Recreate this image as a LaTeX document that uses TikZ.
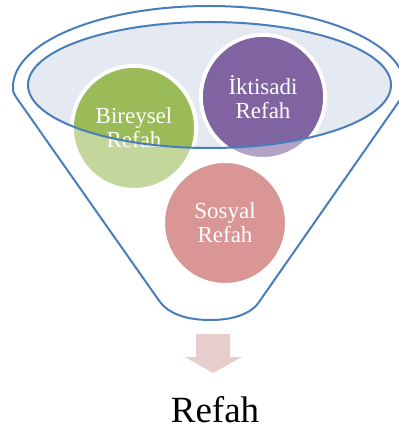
\documentclass[tikz,border=0pt]{standalone}
\usepackage{fontspec}
\setmainfont{Liberation Serif}
\usepackage{xcolor}
\definecolor{funnelBlue}{HTML}{4A7EBB}
\definecolor{rimFill}{HTML}{E4E9F2}
\definecolor{greenFull}{HTML}{9BBB59}
\definecolor{greenLight}{HTML}{C3D69B}
\definecolor{purpleFull}{HTML}{8064A2}
\definecolor{purpleLight}{HTML}{B3A2C7}
\definecolor{redLight}{HTML}{D99694}
\definecolor{arrowPink}{HTML}{E8CDCD}
\usetikzlibrary{positioning}

\begin{document}
\begin{tikzpicture}[x=1pt, y=-1pt,
  every node/.style={font=\fontsize{23}{24}\selectfont, align=center},
  ball/.style={circle, minimum size=124, inner sep=0pt, draw=white, line width=4pt},
  balltext/.style={text=white},
  funnelline/.style={draw=funnelBlue, line width=2pt}]
  \useasboundingbox (0,0) rectangle (398,430);
  % Rim
  \fill[rimFill] (209.5,85) ellipse [x radius=181.5, y radius=63];
  % Circles
  \node[ball, fill=greenLight] (bir) at (134,128) {};
  \node[ball, fill=purpleLight] (ikt) at (263,97) {};
  \node[ball, fill=redLight] (sos) at (225,223) {};
  \begin{scope}
    \clip (209.5,85) ellipse [x radius=181.5, y radius=63];
    \fill[greenFull] (bir.center) circle (60);
    \fill[purpleFull] (ikt.center) circle (60);
  \end{scope}
  % Labels
  \node[balltext] (birtext) at (bir.center) {Bireysel\\Refah};
  \node[balltext] (ikttext) at (ikt.center) {İktisadi\\Refah};
  \node[balltext] (sostext) at (sos.center) {Sosyal\\Refah};
  % Funnel
  \draw[funnelline] (209.5,85) ellipse [x radius=181.5, y radius=63];
  \draw[funnelline] (13,87) arc[start angle=180, end angle=360, x radius=196, y radius=81]
    .. controls (405,92) .. (402,97) -- (259,302)
    .. controls (254,310) and (240,320) .. (210,320)
    .. controls (180,320) and (166,310) .. (160,302)
    -- (16,97) .. controls (13,92) .. (13,87);
  % Output
  \fill[arrowPink] (196,334) -- (230,334) -- (230,357) -- (242,357) -- (213,373)
    -- (185,357) -- (196,357) -- cycle;
  \node[anchor=base, font=\fontsize{37}{40}\selectfont] (out) at (215,422) {Refah};
\end{tikzpicture}
\end{document}
